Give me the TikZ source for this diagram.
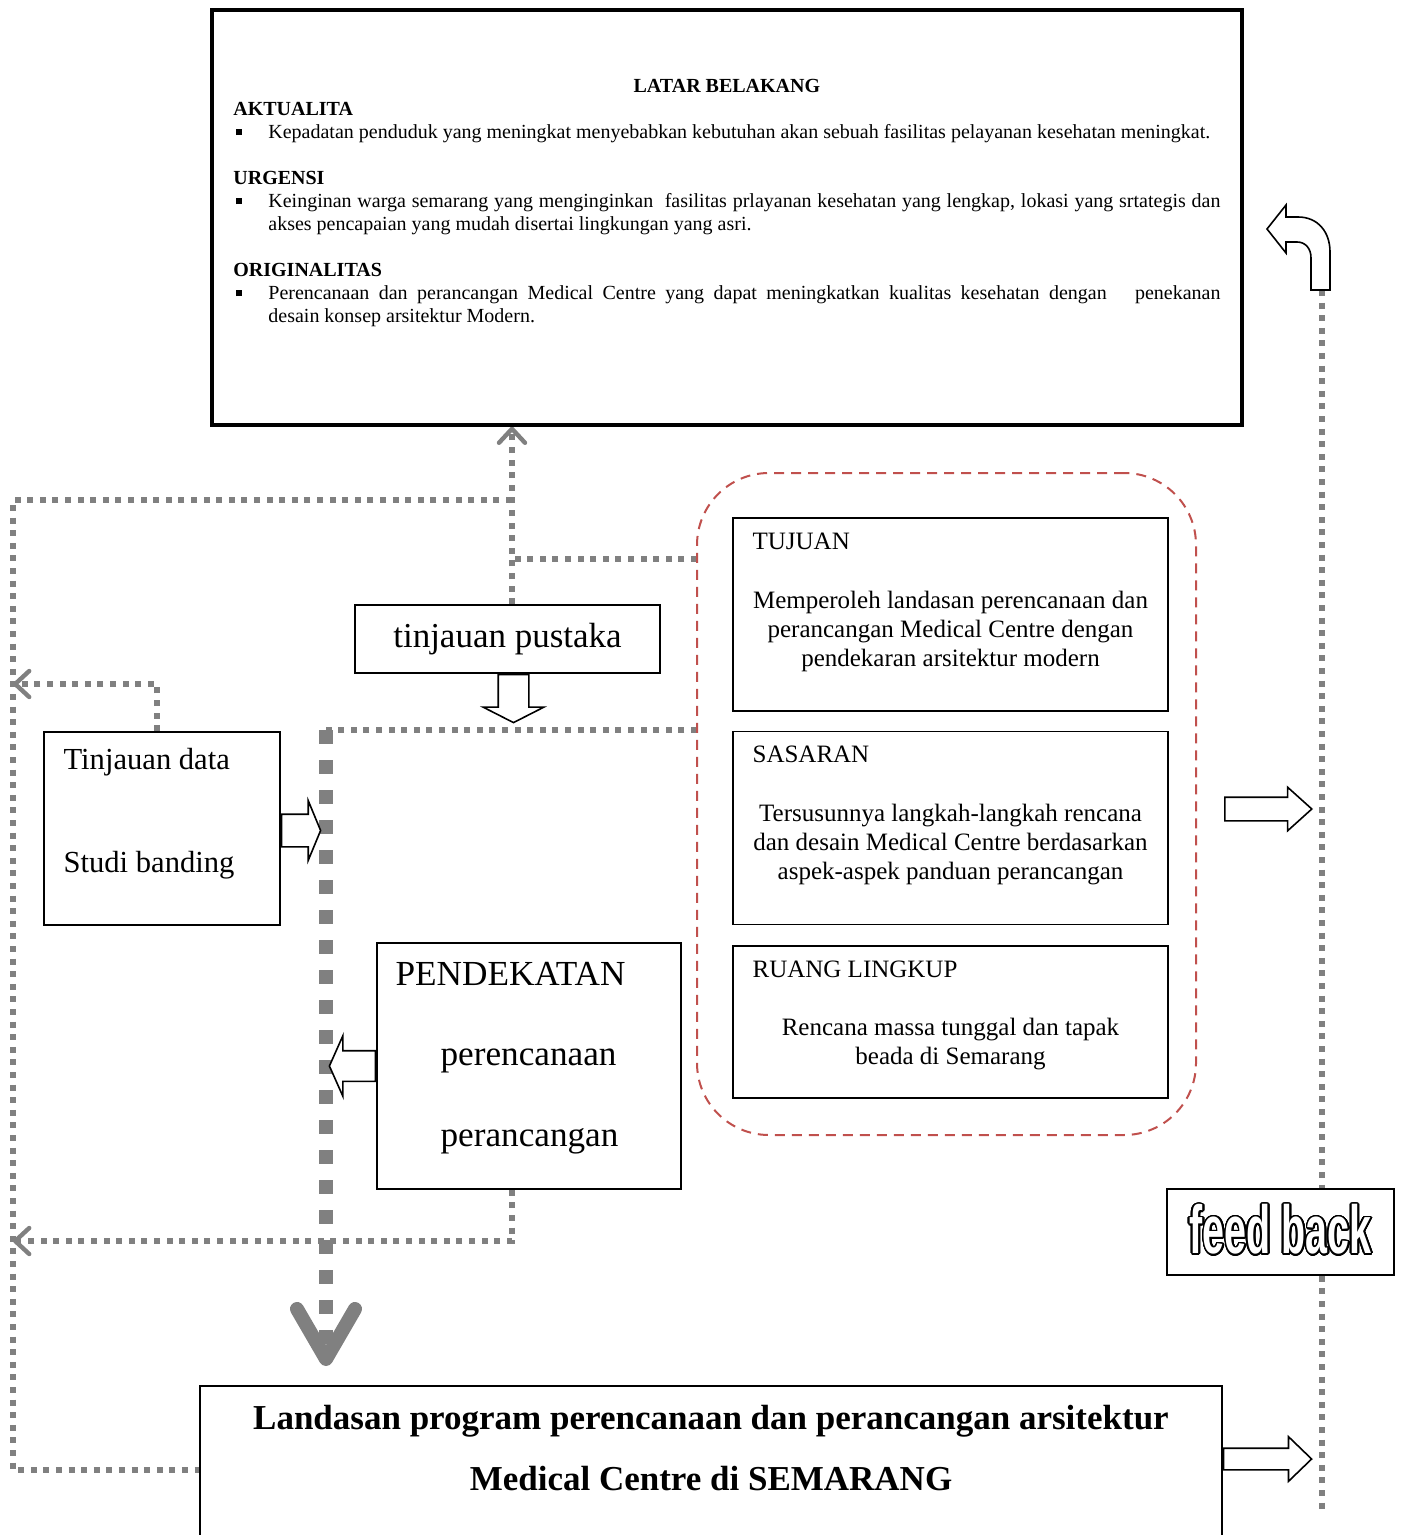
\documentclass[tikz,border=0pt]{standalone}
\usepackage{fontspec}
\setmainfont{Liberation Serif}
\newfontfamily\fbfont[FakeStretch=0.58]{Liberation Sans}
\usepackage{xcolor}
\usepackage{contour}
\usetikzlibrary{positioning,arrows.meta,shapes.arrows,backgrounds,calc}
\definecolor{dotgray}{HTML}{808080}
\definecolor{regred}{HTML}{C0504D}
\setlength{\parindent}{0pt}
\contourlength{0.8pt}
\contournumber{32}
\tikzset{
  box/.style={rectangle,draw=black,line width=0.8pt,fill=white,inner sep=0pt},
  bigbox/.style={box,line width=1.6pt},
  region/.style={rectangle,draw=regred,line width=1pt,dash pattern=on 5pt off 3.5pt,
    rounded corners=36pt,inner sep=0pt},
  lbl/.style={inner sep=0pt,anchor=west,font=\fontsize{12.5}{14.5}\selectfont},
  body/.style={inner sep=0pt,align=center,font=\fontsize{12.5}{14.5}\selectfont},
  biglbl/.style={inner sep=0pt,anchor=west,font=\fontsize{17.6}{20}\selectfont},
  midlbl/.style={inner sep=0pt,anchor=west,font=\fontsize{15.3}{18}\selectfont},
  toptext/.style={inner sep=0pt,text width=493.5pt,align=justify,
    font=\fontsize{10}{11.5}\selectfont},
  dotline/.style={draw=dotgray,line width=3pt,dash pattern=on 3pt off 3.3pt},
  thickdot/.style={draw=dotgray,line width=7pt,dash pattern=on 7pt off 8pt},
  dottip/.style={-{Straight Barb[length=7pt,width=13pt,line width=2.2pt,round]}},
  bigtip/.style={-{Straight Barb[length=25pt,width=29pt,round]}},
  blockarr/.style={single arrow,draw=black,fill=white,line width=0.8pt,inner xsep=0pt},
  blockline/.style={draw=black,fill=white,line width=0.8pt,line join=miter},
}
\newcommand{\bul}{\noindent\hangindent=17.5pt\hangafter=1\relax
  \makebox[17.5pt][l]{\hspace{1.5pt}\rule[1.8pt]{3pt}{3pt}}}

\begin{document}
\begin{tikzpicture}[x=0.5pt,y=-0.5pt]
  \useasboundingbox (0,0) rectangle (1401,1535);

  % latar belakang
  \node[bigbox,minimum width=515pt,minimum height=207.5pt] (latar) at (727,217.5) {};
  \node[toptext,anchor=north west] (latartext) at (233,79) {%
    \hyphenpenalty=10000\emergencystretch=2em
    {\centering\textbf{LATAR BELAKANG}\par}
    \noindent\textbf{AKTUALITA}\par
    \bul Kepadatan penduduk yang meningkat menyebabkan kebutuhan akan sebuah fasilitas pelayanan kesehatan meningkat.\par
    \vskip11.5pt
    \noindent\textbf{URGENSI}\par
    \bul Keinginan warga semarang yang menginginkan\ \ fasilitas prlayanan kesehatan yang lengkap, lokasi yang srtategis dan\linebreak{} akses pencapaian yang mudah disertai lingkungan yang asri.\par
    \vskip11.5pt
    \noindent\textbf{ORIGINALITAS}\par
    \bul Perencanaan dan perancangan Medical Centre yang dapat meningkatkan kualitas kesehatan dengan\ \ \ penekanan\linebreak{} desain konsep arsitektur Modern.\par};

  % tujuan, sasaran, ruang lingkup
  \node[region,minimum width=249.5pt,minimum height=331pt] (region) at (946.5,804) {};
  \node[box,minimum width=217.5pt,minimum height=96.5pt] (tujuan) at (950.5,614.5) {};
  \node[box,minimum width=217.5pt,minimum height=96.5pt,below=9.5pt of tujuan] (sasaran) {};
  \node[box,minimum width=217.5pt,minimum height=76pt,below=10pt of sasaran] (lingkup) {};
  \node[lbl] at ([shift={(10pt,-12pt)}]tujuan.north west) {TUJUAN};
  \node[body] at ([yshift=-8.25pt]tujuan.center)
    {Memperoleh landasan perencanaan dan\\perancangan Medical Centre dengan\\pendekaran arsitektur modern};
  \node[lbl] at ([shift={(10pt,-12pt)}]sasaran.north west) {SASARAN};
  \node[body] at ([yshift=-8.25pt]sasaran.center)
    {Tersusunnya langkah-langkah rencana\\dan desain Medical Centre berdasarkan\\aspek-aspek panduan perancangan};
  \node[lbl] at ([shift={(10pt,-12pt)}]lingkup.north west) {RUANG LINGKUP};
  \node[body] at ([yshift=-10.75pt]lingkup.center)
    {Rencana massa tunggal dan tapak\\beada di Semarang};

  % tinjauan
  \node[box,minimum width=152.5pt,minimum height=34pt,font=\fontsize{17.5}{20}\selectfont]
    (pustaka) at (507.5,639) {tinjauan pustaka};
  \node[box,minimum width=118pt,minimum height=96.5pt] (data) at (162,828.5) {};
  \node[midlbl] at ([shift={(10pt,-15.5pt)}]data.north west) {Tinjauan data};
  \node[midlbl] at ([shift={(10pt,-67pt)}]data.north west) {Studi banding};

  % pendekatan
  \node[box,minimum width=152pt,minimum height=123pt] (pendekatan) at (529,1066) {};
  \node[biglbl] at ([shift={(9.5pt,-16pt)}]pendekatan.north west) {PENDEKATAN};
  \node[biglbl] at ([shift={(32pt,-59.5pt)}]pendekatan.north west) {perencanaan};
  \node[biglbl] at ([shift={(32pt,-99.5pt)}]pendekatan.north west) {perancangan};

  % landasan
  \node[box,minimum width=511pt,minimum height=84pt] (landasan) at (711,1470) {};
  \node[inner sep=0pt,align=center,font=\bfseries\fontsize{17.5}{30.5}\selectfont]
    (landasantext) at (711,1448)
    {Landasan program perencanaan dan perancangan arsitektur\\Medical Centre di SEMARANG};

  % feed back
  \node[box,minimum width=113.5pt,minimum height=43pt] (feedback) at (1280.5,1232)
    {\raisebox{3pt}{\fbfont\bfseries\fontsize{34}{34}\selectfont\contour{black}{\textcolor{white}{feed back}}}};
  \coordinate (railtop) at (1322,290);
  \coordinate (railend) at (1322,1510);

  % dotted connectors
  \begin{scope}[on background layer]
    \draw[dotline,dottip] ([xshift=2.25pt]pustaka.north) -- ([xshift=2.25pt]pustaka.north |- latar.south);
    \draw[dotline] (512,500) -- (13,500) -- (13,1470) -- (landasan.west);
    \draw[dotline] (697,559) -- (512,559);
    \draw[dotline,dottip] ([xshift=-2.5pt]data.north) |- (13,684);
    \draw[dotline,dottip] ([xshift=-8.5pt]pendekatan.south) |- (13,1241);
    \draw[dotline] (697,730) -- (322,730);
    \draw[thickdot,bigtip] (326,730) -- (326,1366);
    \draw[dotline] (railtop) -- (railtop |- feedback.north);
    \draw[dotline] (railtop |- feedback.south) -- (railend);
  \end{scope}

  % block arrows
  \node[blockarr,rotate=-90,anchor=tail,inner ysep=7.25pt,single arrow head extend=7.5pt,
    single arrow tip angle=126,minimum height=24pt] (arrpustaka) at ([xshift=3pt]pustaka.south) {};
  \node[blockarr,anchor=tail,inner ysep=7.75pt,single arrow head extend=6.75pt,
    single arrow tip angle=135,minimum height=19.5pt] (arrdata) at ([yshift=-1pt]data.east) {};
  \node[blockarr,rotate=180,anchor=tail,inner ysep=7.25pt,single arrow head extend=7.5pt,
    single arrow tip angle=132,minimum height=23pt] (arrpendekatan) at (pendekatan.west) {};
  \node[blockarr,anchor=tail,inner ysep=5.5pt,single arrow head extend=5pt,
    single arrow tip angle=84,minimum height=43.5pt] (arrregion) at ([shift={(13.5pt,-2.5pt)}]region.east) {};
  \node[blockarr,anchor=tail,inner ysep=5pt,single arrow head extend=5.75pt,
    single arrow tip angle=88,minimum height=44pt] (arrlandasan) at ([yshift=5.5pt]landasan.east) {};
  \draw[blockline] (1286,217) -- (1298,217) .. controls (1318,217) and (1330,232) .. (1330,252)
    -- (1330,290) -- (1311,290) -- (1311,258) .. controls (1311,248) and (1305,242) .. (1297,242)
    -- (1286,242) -- (1286,253) -- (1267,229) -- (1286,205) -- cycle;
\end{tikzpicture}
\end{document}
